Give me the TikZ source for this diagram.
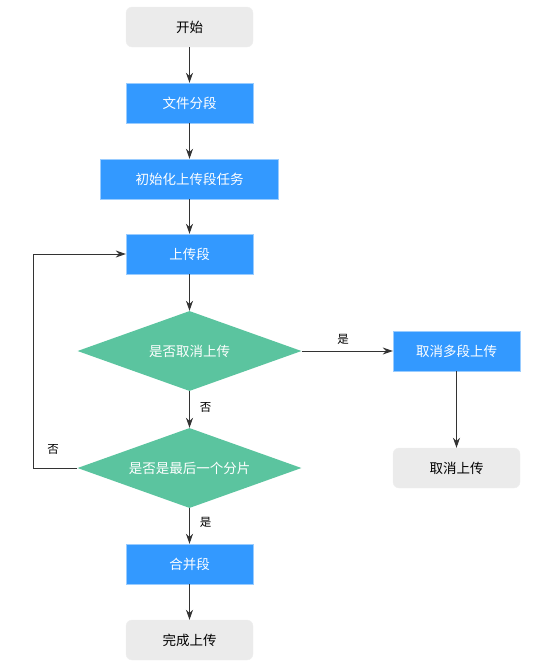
\documentclass[tikz,border=0pt]{standalone}
\usepackage{fontspec}
\setmainfont{Noto Sans CJK SC}
\usetikzlibrary{shapes.geometric,arrows.meta}
\definecolor{boxblue}{HTML}{3399FF}
\definecolor{boxblueline}{HTML}{99CCFF}
\definecolor{greybox}{HTML}{EBEBEB}
\definecolor{greyline}{HTML}{EFEFEF}
\definecolor{dgreen}{HTML}{5BC49F}
\definecolor{linec}{HTML}{333333}
\begin{document}
\begin{tikzpicture}[x=1pt,y=-1pt,
  every node/.style={font=\fontsize{13.5}{16}\selectfont, inner sep=0pt},
  terminal/.style={draw=greyline, fill=greybox, rounded corners=6pt, minimum width=127pt, minimum height=40pt, text=black},
  process/.style={draw=boxblueline, fill=boxblue, minimum width=127pt, minimum height=40pt, text=white},
  decision/.style={diamond, aspect=2.8, fill=dgreen, minimum width=224pt, minimum height=80pt, text=white},
  conn/.style={draw=linec, line width=0.9pt, -{Stealth[length=10pt,width=7pt]}},
  lab/.style={font=\fontsize{11.5}{13}\selectfont, text=black}]
\useasboundingbox (0,0) rectangle (551,667);
\node[terminal] (start) at (189.5,27) {开始};
\node[process] (split) at (189.5,103) {文件分段};
\node[process, minimum width=178pt] (init) at (189.5,179) {初始化上传段任务};
\node[process] (upload) at (189.5,254) {上传段};
\node[decision] (cancelq) at (189.5,351) {是否取消上传};
\node[process] (abort) at (456.5,351) {取消多段上传};
\node[terminal] (cancelled) at (456.5,468) {取消上传};
\node[decision] (lastq) at (189.5,468) {是否是最后一个分片};
\node[process] (merge) at (189.5,564) {合并段};
\node[terminal] (done) at (189.5,640) {完成上传};
\coordinate (lb) at (33,468);
\coordinate (lt) at (33,254);
\draw[conn] (start) -- (split);
\draw[conn] (split) -- (init);
\draw[conn] (init) -- (upload);
\draw[conn] (upload) -- (cancelq);
\draw[conn] (cancelq) -- node[lab, pos=0.455, above=6pt] {是} (abort);
\draw[conn] (abort) -- (cancelled);
\draw[conn] (cancelq) -- node[lab, pos=0.45, right=10pt] {否} (lastq);
\draw[conn] (lastq) -- node[lab, pos=0.4, right=10pt] {是} (merge);
\draw[conn] (merge) -- (done);
\draw[conn] (lastq.west) -- (lb) -- (lt) -- (upload.west);
\node[lab] (nolab) at (53,449) {否};
\end{tikzpicture}
\end{document}
